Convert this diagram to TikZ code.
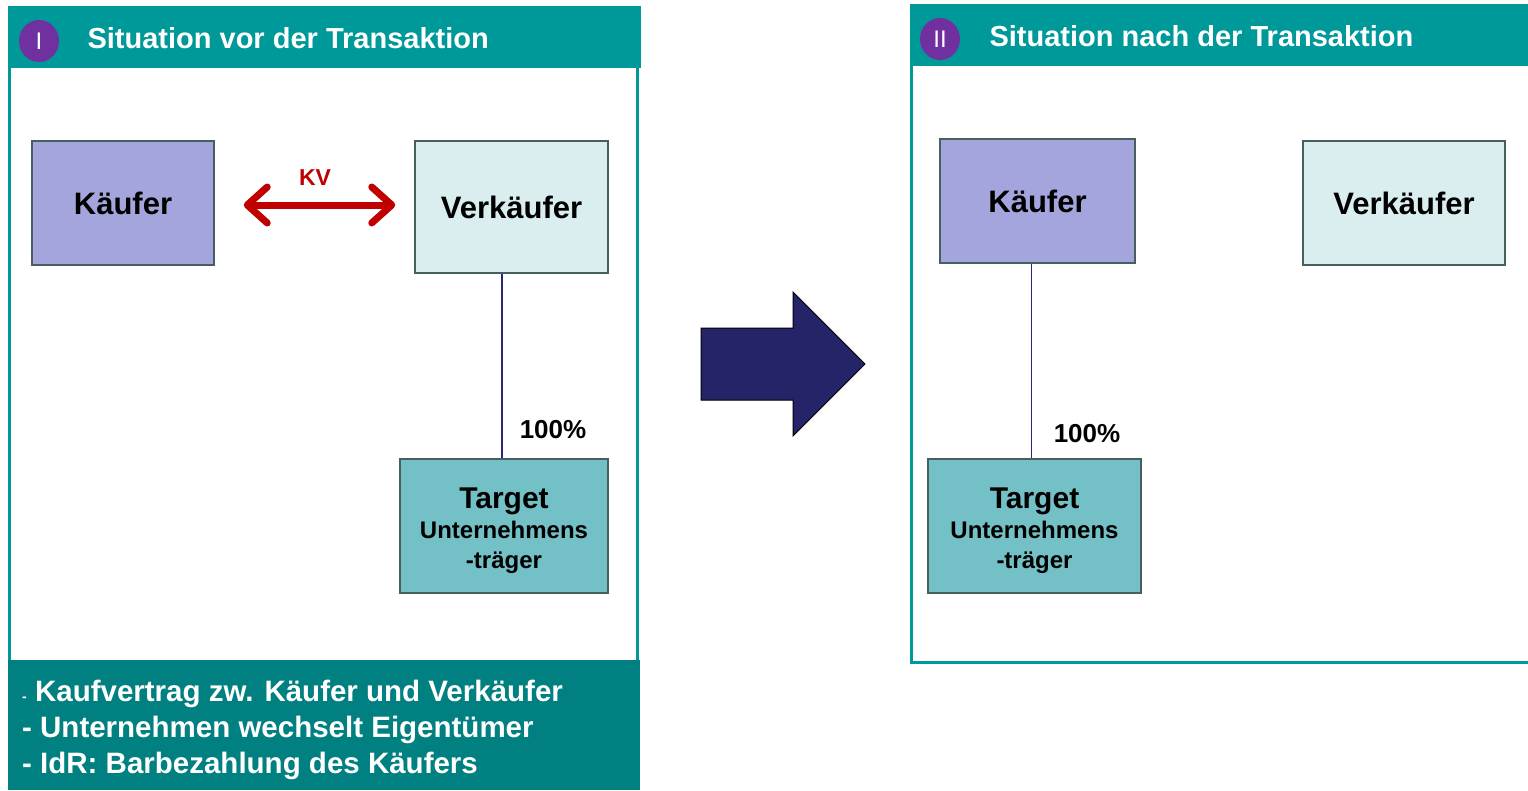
\documentclass[tikz,border=0pt]{standalone}
\usepackage{fontspec}
\setmainfont{Liberation Sans}
\usetikzlibrary{arrows.meta,calc,shapes.geometric}
\definecolor{headteal}{RGB}{0,153,153}
\definecolor{noteteal}{RGB}{0,128,128}
\definecolor{roman}{RGB}{112,48,160}
\definecolor{buyer}{RGB}{165,165,221}
\definecolor{seller}{RGB}{218,238,240}
\definecolor{target}{RGB}{115,192,198}
\definecolor{boxline}{RGB}{70,96,96}
\definecolor{link}{RGB}{40,40,120}
\definecolor{kvred}{RGB}{192,0,0}
\definecolor{bigarrow}{RGB}{38,36,105}
\tikzset{
  fs/.style={font=\fontsize{#1}{#1}\selectfont\bfseries},
  frame/.style={draw=headteal,line width=3pt,fill=white},
  header/.style={fill=headteal},
  numeral/.style={ellipse,fill=roman,text=white,inner sep=0pt,minimum width=40pt,minimum height=42pt,font=\fontsize{24}{24}\selectfont},
  title/.style={anchor=west,text=white,fs=29},
  party/.style={draw=boxline,line width=1.5pt,inner sep=0pt,fs=31},
  tgtbox/.style={draw=boxline,line width=1.5pt,fill=target,inner sep=0pt},
  tgttext/.style={inner sep=0pt,align=center,font=\fontsize{24}{30}\selectfont\bfseries},
  share/.style={draw=link,line width=1.5pt},
  pct/.style={fs=26},
  barb/.tip={Straight Barb[length=20pt,width=36pt,round]},
}
\begin{document}
\begin{tikzpicture}[x=1pt,y=-1pt]
\useasboundingbox (0,0) rectangle (1528,790);
\fill[white] (0,0) rectangle (1528,790);

% ---- left panel: before ----
\draw[frame] (9,66) rectangle (637,662);
\fill[header] (8,6) rectangle (641,68);
\node[numeral] (nI) at (39,41) {I};
\node[title] (tI) at (84,38) {Situation vor der Transaktion};
\fill[noteteal] (8,660) rectangle (640,790);
\node[anchor=west,text=white,fs=29.5,align=left,inner sep=0pt] (notes) at (22,730)
  {{\fontsize{14}{14}\selectfont -} Kaufvertrag zw. Käufer und Verkäufer\\[6.5pt]
   - Unternehmen wechselt Eigentümer\\[6.5pt]
   - IdR: Barbezahlung des Käufers};

\node[party,fill=buyer,minimum width=182pt,minimum height=124pt] (kL) at (123,203) {Käufer};
\node[party,fill=seller,minimum width=193pt,minimum height=132pt] (vL) at (511.5,207) {Verkäufer};
\node[tgtbox,minimum width=208pt,minimum height=134pt] (tL) at (504,526) {};
\node[tgttext] (tLtext) at ($(tL.center)+(0,5)$)
  {{\fontsize{30}{30}\selectfont Target}\\ Unternehmens\\ -träger};
\coordinate (tLtop) at ($(tL.north)+(-2,0)$);
\draw[share] (tLtop) -- (tLtop |- vL.south);
\node[pct] (pL) at (553,430) {100\%};

\coordinate (kvA) at ($(kL.east)+(29,2)$);
\coordinate (kvB) at ($(vL.west)+(-19,-2)$);
\draw[kvred,line width=7pt,barb-barb] (kvA) -- (kvB);
\node[text=kvred,fs=23] (kv) at (315,178) {KV};

% ---- transition arrow ----
\draw[fill=bigarrow,draw=black,line width=1pt]
  (701,328) -- (793,328) -- (793,292) -- (865,364) -- (793,436) -- (793,400) -- (701,400) -- cycle;

% ---- right panel: after ----
\draw[frame] (911,64) -- (911,662) -- (1535,662);
\fill[header] (910,4) rectangle (1528,66);
\node[numeral] (nII) at (940,39) {II};
\node[title] (tII) at (986,36) {Situation nach der Transaktion};

\node[party,fill=buyer,minimum width=195pt,minimum height=124pt] (kR) at (1037.5,201) {Käufer};
\node[party,fill=seller,minimum width=202pt,minimum height=124pt] (vR) at (1404,203) {Verkäufer};
\node[tgtbox,minimum width=213pt,minimum height=134pt] (tR) at (1034.5,526) {};
\node[tgttext] (tRtext) at ($(tR.center)+(0,5)$)
  {{\fontsize{30}{30}\selectfont Target}\\ Unternehmens\\ -träger};
\coordinate (kRbot) at ($(kR.south)+(-6,0)$);
\draw[share] (kRbot) -- (kRbot |- tR.north);
\node[pct] (pR) at (1087,434) {100\%};
\end{tikzpicture}
\end{document}
